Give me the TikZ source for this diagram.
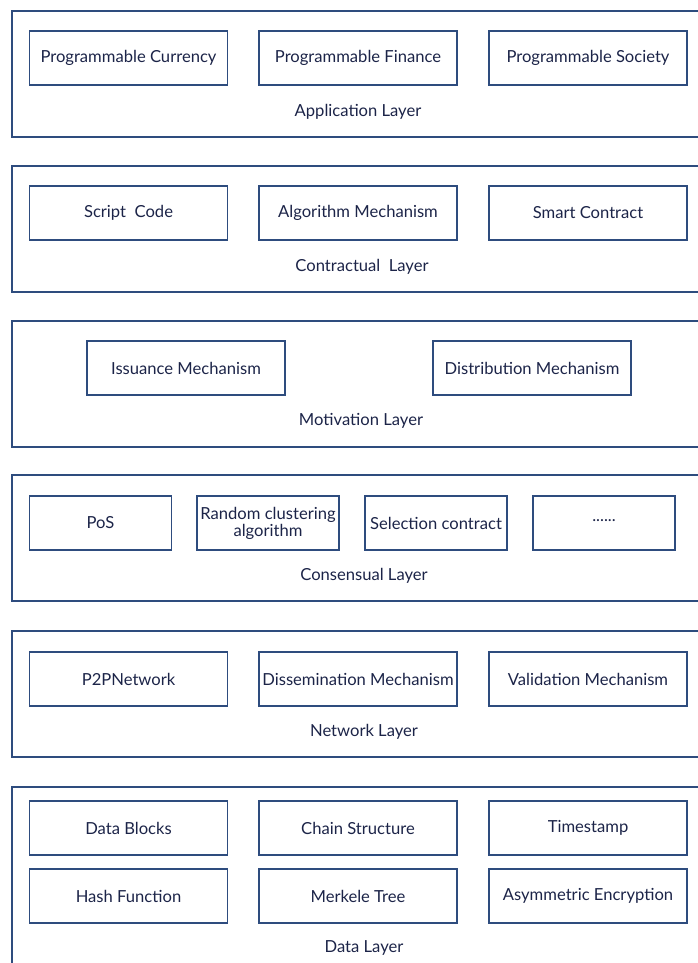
\documentclass[tikz,border=0pt]{standalone}
\usepackage{fontspec}
\setmainfont{Lato}
\usepackage{xcolor}
\definecolor{layerblue}{RGB}{46,76,126}
\definecolor{inkblue}{RGB}{28,36,72}
\tikzset{
  layerbox/.style={draw=layerblue, line width=1.6pt},
  itembox/.style={draw=layerblue, line width=1.6pt, minimum width=198pt, minimum height=54pt,
    inner sep=2pt, font=\fontsize{16.6}{17}\selectfont, text=inkblue, align=center},
  smallbox/.style={itembox, minimum width=142pt},
  layername/.style={font=\fontsize{16.6}{17}\selectfont, text=inkblue}
}
\begin{document}
\begin{tikzpicture}[x=1pt, y=-1pt]
\useasboundingbox (0,0) rectangle (698,963);
\begin{scope}
\clip (0,0) rectangle (698,963);
% APPLICATION LAYER
\draw[layerbox] (12,11) rectangle (710,137);
\node[itembox] (cur) at (128.5,58) {Programmable Currency};
\node[itembox] (fin) at (358,58) {Programmable Finance};
\node[itembox] (soc) at (588,58) {Programmable Society};
\node[layername] (app) at (358,111.5) {Application Layer};
% CONTRACTUAL LAYER
\draw[layerbox] (12,166) rectangle (710,292);
\node[itembox] (scr) at (128.5,213) {Script\ \ Code};
\node[itembox] (alg) at (358,213) {Algorithm Mechanism};
\node[itembox] (sma) at (588,213) {Smart Contract};
\node[layername] (con) at (362,266.5) {Contractual\ \ Layer};
% MOTIVATION LAYER
\draw[layerbox] (12,321) rectangle (710,447);
\node[itembox] (iss) at (186,368) {Issuance Mechanism};
\node[itembox] (dis) at (532,368) {Distribution Mechanism};
\node[layername] (mot) at (361,420.5) {Motivation Layer};
% CONSENSUAL LAYER
\draw[layerbox] (12,475) rectangle (710,601);
\node[smallbox] (pos) at (100.5,523) {PoS};
\node[smallbox] (rnd) at (268,523) {Random clustering\\algorithm};
\node[smallbox] (sel) at (436,523) {Selection contract};
\node[smallbox] (etc) at (604,523) {\raisebox{4pt}{......}};
\node[layername] (cns) at (364,575.5) {Consensual Layer};
% NETWORK LAYER
\draw[layerbox] (12,631) rectangle (710,757);
\node[itembox] (p2p) at (128.5,679) {P2PNetwork};
\node[itembox] (dsm) at (358,679) {Dissemination Mechanism};
\node[itembox] (val) at (588,679) {Validation Mechanism};
\node[layername] (net) at (364,731.5) {Network Layer};
% DATA LAYER
\draw[layerbox] (12,787) rectangle (710,990);
\node[itembox] (blk) at (128.5,828) {Data Blocks};
\node[itembox] (chn) at (358,828) {Chain Structure};
\node[itembox] (tms) at (588,828) {Timestamp};
\node[itembox] (hsh) at (128.5,896) {Hash Function};
\node[itembox] (mrk) at (358,896) {Merkele Tree};
\node[itembox] (asy) at (588,896) {Asymmetric Encryption};
\node[layername] (dat) at (364,947.5) {Data Layer};
\end{scope}
\end{tikzpicture}
\end{document}
